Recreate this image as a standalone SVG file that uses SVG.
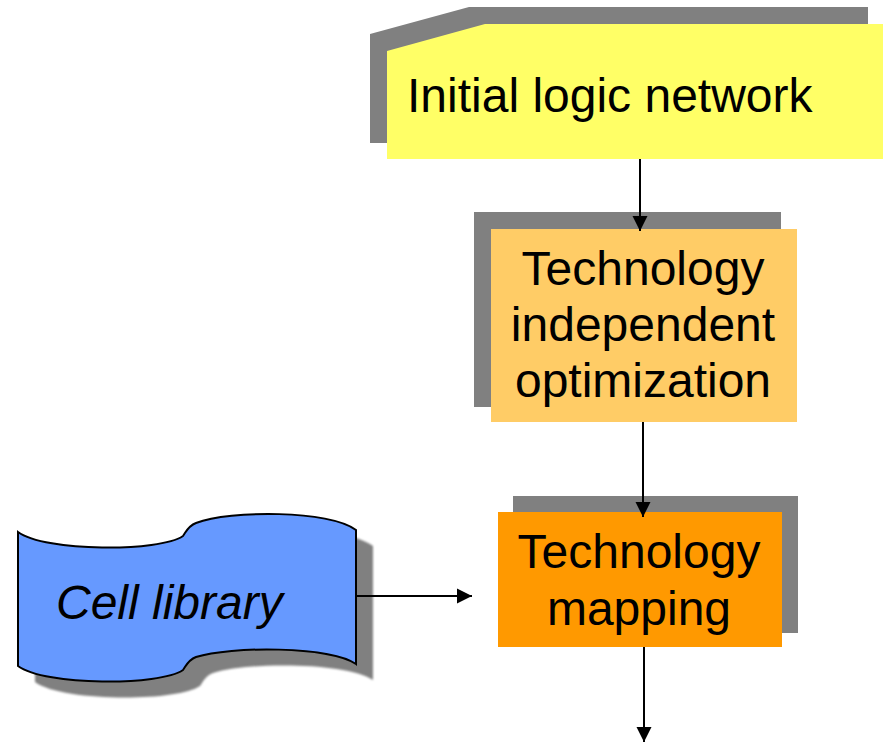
<svg xmlns="http://www.w3.org/2000/svg" width="887" height="744" viewBox="0 0 887 744">
  <style>
    .shadow { fill: #808080; }
    .label { font-family: "Liberation Sans", Arial, sans-serif; font-size: 48px; fill: #000; }
    .mid { text-anchor: middle; }
    .edge { stroke: #000; stroke-width: 2; fill: none; marker-end: url(#arrow); }
  </style>
  <defs>
    <marker id="arrow" markerUnits="userSpaceOnUse" markerWidth="16" markerHeight="16" viewBox="0 0 16 16" refX="15" refY="8" orient="auto">
      <path d="M0,0.5 L15,8 L0,15.5 Z" fill="#000"/>
    </marker>
    <filter id="soft" x="-10%" y="-10%" width="120%" height="120%">
      <feGaussianBlur stdDeviation="1.2"/>
    </filter>
  </defs>
  <rect width="887" height="744" fill="#fff"/>

  <!-- Start: initial logic network (card with clipped corner) -->
  <g id="initial">
    <polygon class="shadow" points="370,34 469,7 868,7 868,143 370,143"/>
    <polygon fill="#FFFF66" points="387,51 485,24 883,24 883,159 387,159"/>
    <text class="label" x="407" y="112">Initial logic network</text>
  </g>

  <!-- Technology independent optimization -->
  <g id="tech-indep">
    <rect class="shadow" x="474" y="212" width="307" height="195"/>
    <rect fill="#FFCC66" x="491" y="229" width="306" height="193"/>
    <text class="label mid" x="643" y="285">Technology</text>
    <text class="label mid" x="643" y="341">independent</text>
    <text class="label mid" x="643" y="397">optimization</text>
  </g>

  <!-- Technology mapping -->
  <g id="tech-map">
    <rect class="shadow" x="513" y="496" width="285" height="137"/>
    <rect fill="#FF9900" x="498" y="512" width="284" height="135"/>
    <text class="label mid" x="639" y="568">Technology</text>
    <text class="label mid" x="639" y="625">mapping</text>
  </g>

  <!-- Cell library (punched tape symbol) -->
  <g id="cell-library">
    <path class="shadow" filter="url(#soft)" transform="translate(17,16)" d="M18,532 C45,552 160,552 183,536 C186,532 188,526 196,523 C230,510 330,510 356,530 L356,664 C330,646 230,646 196,657 C188,660 186,666 183,670 C160,686 45,686 18,666 Z"/>
    <path fill="#6699FF" stroke="#000" stroke-width="2" d="M18,532 C45,552 160,552 183,536 C186,532 188,526 196,523 C230,510 330,510 356,530 L356,664 C330,646 230,646 196,657 C188,660 186,666 183,670 C160,686 45,686 18,666 Z"/>
    <text class="label" x="56" y="619" font-style="italic">Cell library</text>
  </g>

  <g id="connectors">
    <line class="edge" x1="640" y1="159" x2="640" y2="231"/>
    <line class="edge" x1="643" y1="422" x2="643" y2="517"/>
    <line class="edge" x1="356" y1="596" x2="472" y2="596"/>
    <line class="edge" x1="644" y1="647" x2="644" y2="742"/>
  </g>
</svg>
